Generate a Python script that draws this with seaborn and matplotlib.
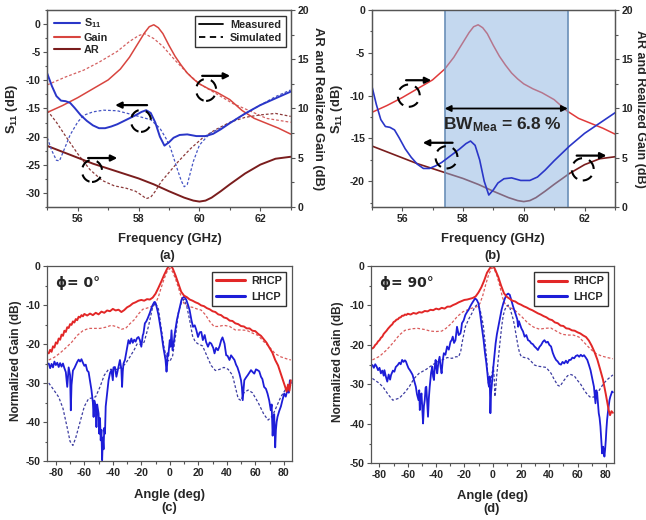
import matplotlib
matplotlib.use("Agg")
import matplotlib.pyplot as plt
import seaborn as sns
from matplotlib.patches import Ellipse
from matplotlib.lines import Line2D
from matplotlib.ticker import MultipleLocator

# ---------------- data: panels (a) and (b) ----------------
freq_s11_meas = [55.0, 55.15, 55.3, 55.45, 55.6, 55.75, 55.9, 56.1, 56.3, 56.5, 56.7, 56.9, 57.1, 57.3,
                 57.6, 57.9, 58.1, 58.25, 58.4, 58.55, 58.7, 58.85, 59.0, 59.15, 59.35, 59.6, 59.9,
                 60.2, 60.45, 60.7, 61.0, 61.5, 62.0, 62.5, 63.0]
s11_meas = [-8.8, -11.0, -12.8, -13.6, -13.7, -14.0, -14.9, -16.2, -17.2, -18.0, -18.5, -18.5, -18.2, -17.8,
            -17.0, -16.2, -15.6, -15.3, -15.8, -17.5, -20.0, -21.6, -21.0, -20.2, -19.7, -19.6, -19.9,
            -19.9, -19.5, -18.7, -17.6, -15.9, -14.4, -13.2, -12.0]

freq_s11_sim = [55.0, 55.15, 55.3, 55.4, 55.5, 55.75, 56.0, 56.2, 56.5, 56.85, 57.3, 57.8, 58.4, 58.7,
                58.9, 59.05, 59.25, 59.4, 59.5, 59.6, 59.8, 60.0, 60.35, 60.8, 61.2, 61.9, 62.5, 63.0]
s11_sim = [-20.2, -22.5, -24.2, -24.3, -23.0, -19.7, -17.4, -16.2, -15.6, -15.3, -15.4, -16.1, -17.0, -18.5,
           -20.3, -22.0, -25.4, -27.8, -28.9, -28.5, -24.4, -21.5, -19.4, -18.2, -16.9, -14.7, -12.9, -11.7]

freq_gain = [55.0, 55.5, 56.0, 56.5, 57.0, 57.4, 57.7, 58.0, 58.2, 58.35, 58.5, 58.65, 58.8, 59.0,
             59.2, 59.4, 59.6, 59.8, 60.0, 60.3, 60.6, 61.0, 61.4, 61.8, 62.2, 62.6, 63.0]
gain_meas = [9.6, 10.3, 11.1, 12.0, 12.9, 14.0, 15.2, 16.7, 17.7, 18.3, 18.5, 18.2, 17.6, 16.4,
             15.3, 14.4, 13.6, 13.0, 12.5, 12.0, 11.6, 10.9, 9.8, 9.0, 8.5, 8.0, 7.4]

freq_gain_sim = [55.0, 55.6, 56.2, 56.7, 57.3, 57.7, 58.0, 58.2, 58.5, 58.8, 59.2, 59.6, 60.0, 60.5,
                 61.1, 61.7, 62.2, 63.0]
gain_sim = [12.4, 13.2, 13.9, 14.7, 15.8, 16.8, 17.4, 17.6, 17.1, 16.3, 14.9, 13.6, 12.5, 11.6,
            10.5, 9.7, 9.0, 8.6]

freq_ar = [55.0, 55.5, 56.0, 56.5, 57.0, 57.5, 58.0, 58.5, 59.0, 59.5, 59.8, 60.0, 60.2, 60.4,
           60.7, 61.0, 61.5, 62.0, 62.5, 63.0]
ar_meas = [6.2, 5.6, 5.0, 4.4, 3.9, 3.4, 2.9, 2.3, 1.6, 0.95, 0.65, 0.55, 0.65, 0.95,
           1.6, 2.3, 3.4, 4.3, 4.9, 5.1]

freq_ar_sim = [55.0, 55.3, 55.6, 56.0, 56.4, 56.8, 57.2, 57.6, 57.9, 58.1, 58.25, 58.4, 58.55, 58.75,
               59.0, 59.3, 59.7, 60.1, 60.5, 61.0, 61.5, 62.0, 62.5, 63.0]
ar_sim = [9.8, 8.6, 7.2, 5.4, 3.8, 2.7, 2.15, 1.9, 1.6, 1.2, 0.85, 1.0, 1.6, 2.6,
          3.5, 4.6, 5.9, 7.0, 7.8, 8.6, 9.1, 9.35, 9.5, 9.2]

bw_band = [57.4, 61.45]

# ---------------- data: panel (c) phi = 0 ----------------
rhcp_c_meas = [(-85, -22.4), (-84, -21.5), (-83, -22.0), (-82, -20.6), (-81, -20.9), (-80, -19.6), (-79, -19.9),
               (-78, -18.6), (-77, -18.9), (-76, -17.6), (-75, -17.9), (-74, -16.6), (-73, -16.9), (-72, -15.7),
               (-71, -15.9), (-70, -14.9), (-69, -15.1), (-68, -14.2), (-67, -14.5), (-66, -13.6), (-65, -13.9),
               (-64, -13.0), (-63, -13.2), (-62, -12.6), (-61, -12.9), (-60, -12.3), (-58, -12.7), (-56, -12.2),
               (-54, -12.6), (-52, -12.0), (-50, -12.4), (-48, -11.7), (-46, -12.0), (-44, -11.4), (-42, -11.6),
               (-40, -11.0), (-38, -11.4), (-36, -11.2), (-34, -11.8), (-32, -11.3), (-30, -10.6), (-28, -10.2),
               (-26, -9.6), (-24, -9.3), (-22, -8.9), (-20, -8.7), (-18, -8.9), (-16, -8.5), (-14, -8.6),
               (-12, -8.1), (-10, -7.1), (-8, -5.6), (-6, -4.0), (-4, -2.3), (-2, -0.8), (-1, -0.2), (0, 0.0),
               (1, -0.1), (2, -0.6), (4, -2.4), (6, -4.5), (8, -6.6), (10, -7.6), (12, -8.0), (14, -8.6),
               (16, -8.9), (18, -9.3), (20, -9.6), (22, -10.1), (24, -10.3), (26, -10.8), (28, -11.1),
               (30, -11.6), (32, -11.8), (34, -12.4), (36, -12.6), (38, -13.2), (40, -13.4), (42, -14.0),
               (44, -14.1), (46, -14.7), (48, -14.9), (50, -15.4), (52, -15.5), (54, -16.0), (56, -16.0),
               (58, -16.6), (60, -16.7), (62, -17.4), (64, -17.9), (66, -18.8), (68, -19.7), (70, -21.0),
               (72, -22.2), (74, -24.1), (76, -25.5), (78, -27.7), (80, -29.9), (81, -31.0), (82, -32.2),
               (83, -30.4), (84, -32.0), (85, -29.3)]

rhcp_c_sim = [(-85, -24.1), (-81, -23.4), (-77, -22.3), (-73, -21.0), (-69, -19.6), (-65, -17.8), (-61, -16.6),
              (-57, -16.0), (-53, -16.0), (-49, -16.0), (-45, -15.7), (-41, -15.2), (-37, -15.6), (-34, -16.2),
              (-31, -16.0), (-28, -14.8), (-25, -13.8), (-22, -12.3), (-19, -11.1), (-16, -10.8), (-13, -10.4),
              (-10, -9.6), (-8, -7.9), (-6, -5.5), (-4, -3.3), (-2, -1.5), (0, -0.6), (2, -1.5), (4, -3.3),
              (6, -5.5), (8, -7.9), (10, -9.6), (13, -10.4), (16, -10.6), (19, -11.0), (22, -11.3), (25, -12.5),
              (28, -14.2), (31, -15.5), (34, -15.5), (38, -15.2), (42, -15.5), (46, -16.4), (50, -16.4),
              (54, -16.5), (58, -17.2), (62, -17.8), (66, -19.4), (70, -20.8), (74, -22.5), (78, -23.3),
              (82, -23.8), (85, -24.1)]

lhcp_c_meas = [(-85, -25.0), (-84, -26.2), (-83, -25.1), (-82, -26.0), (-81, -24.5), (-80, -25.4), (-79, -24.8),
               (-78, -25.9), (-77, -24.9), (-76, -25.8), (-75, -25.0), (-74, -26.2), (-73, -27.2), (-72, -31.0),
               (-71, -26.0), (-70, -28.0), (-69.5, -37.0), (-69, -30.5), (-68, -26.8), (-67, -26.2), (-66, -25.4),
               (-65, -24.6), (-64, -24.0), (-63, -24.5), (-62, -23.9), (-61, -24.8), (-60, -25.6), (-59, -25.3),
               (-58, -26.8), (-57, -27.2), (-56, -29.5), (-55, -31.8), (-54, -35.0), (-53.5, -38.7), (-53, -34.5),
               (-52, -36.0), (-51.5, -41.3), (-51, -35.5), (-50, -37.8), (-49.5, -43.0), (-49, -39.0),
               (-48.5, -44.7), (-48, -42.0), (-47.5, -49.8), (-47, -44.0), (-46.5, -47.0), (-46, -41.5),
               (-45.5, -43.0), (-45, -36.0), (-44, -32.7), (-43, -29.3), (-42, -27.5), (-41, -26.7), (-40, -29.3),
               (-39.5, -26.0), (-38.5, -25.9), (-37.5, -28.4), (-36.5, -26.7), (-35, -24.1), (-34, -26.5),
               (-33.5, -31.0), (-33, -27.0), (-32.5, -25.0), (-31.5, -24.1), (-30.5, -22.0), (-29, -19.0),
               (-28, -19.9), (-27, -18.6), (-26, -19.7), (-25, -18.9), (-24, -19.4), (-23, -18.5), (-22, -18.2),
               (-21, -19.0), (-20, -20.7), (-19, -17.8), (-18.5, -17.3), (-17.5, -14.7), (-16.5, -14.2),
               (-15.5, -13.4), (-14, -12.0), (-13, -10.9), (-12, -10.0), (-11, -9.3), (-10.5, -9.2), (-10, -9.6),
               (-9.3, -10.4), (-8, -12.5), (-7, -14.7), (-6, -17.0), (-4.6, -20.7), (-3.5, -23.0), (-3, -24.1),
               (-2.3, -27.1), (-1.8, -25.0), (-1.6, -22.4), (-1, -23.0), (-0.7, -21.6), (0, -19.0), (0.5, -20.7),
               (1.2, -16.5), (1.9, -21.6), (3, -19.0), (3.5, -17.3), (5, -13.8), (6, -12.2), (7, -10.5),
               (8.2, -8.7), (9, -8.2), (10, -7.9), (11, -8.3), (11.6, -8.7), (13, -10.2), (13.9, -11.3),
               (15.2, -13.9), (16.3, -15.6), (17.5, -15.2), (18.6, -16.4), (19.8, -18.2), (21, -17.0),
               (22.1, -16.9), (23.2, -19.0), (24.5, -17.7), (25.5, -19.5), (26.8, -20.7), (28, -19.6),
               (29.1, -19.9), (30.5, -21.0), (31.4, -22.4), (32.5, -21.0), (33.8, -21.6), (35, -20.5),
               (36.1, -19.0), (37, -18.3), (38.4, -19.9), (39.6, -22.9), (40.5, -23.0), (41.9, -24.1),
               (43, -22.9), (44.2, -23.5), (45.4, -24.1), (46.5, -25.3), (47.5, -26.0), (48.9, -27.6),
               (50, -29.3), (50.6, -31.0), (51.2, -34.4), (51.8, -31.5), (52.3, -29.3), (53.5, -28.6),
               (54.7, -28.0), (55.8, -27.4), (57, -26.7), (58.2, -27.2), (59.3, -27.6), (60.5, -26.5),
               (61.6, -26.7), (62.8, -27.0), (64, -28.4), (65, -29.0), (66.2, -31.0), (67.5, -31.5),
               (68.6, -32.7), (69.8, -34.5), (70.9, -37.0), (71.5, -35.5), (72.2, -43.5), (72.8, -39.0),
               (73.3, -38.0), (74, -46.5), (74.5, -42.0), (75, -40.0), (75.6, -38.7), (76.8, -37.2),
               (78, -36.0), (79, -34.5), (80.3, -32.7), (81.4, -33.5), (82.6, -31.8), (83.5, -32.5),
               (84.3, -29.3), (85, -30.0)]

lhcp_c_sim = [(-85, -30.0), (-82, -31.5), (-78, -33.6), (-75, -36.5), (-72, -41.5), (-70, -45.0), (-68, -46.0),
              (-66, -44.0), (-63, -40.0), (-60, -36.0), (-57, -34.0), (-54, -33.8), (-52, -33.5), (-49, -31.0),
              (-46, -28.0), (-43, -26.5), (-40, -26.5), (-37, -26.5), (-34, -26.0), (-31, -25.0), (-28, -23.3),
              (-25, -21.5), (-23, -20.0), (-20, -20.2), (-18, -19.5), (-15, -15.5), (-12, -10.5), (-10, -9.5),
              (-8, -11.0), (-6, -16.0), (-4, -21.0), (-2, -24.0), (0, -24.5), (2, -23.0), (4, -18.0),
              (6, -12.0), (8, -9.5), (10, -8.5), (12, -10.5), (14, -14.0), (16, -18.0), (18, -19.5),
              (20, -20.0), (23, -20.5), (26, -23.0), (29, -25.5), (32, -26.8), (35, -26.5), (38, -26.0),
              (41, -26.5), (44, -28.0), (46, -31.0), (48, -34.0), (50, -34.5), (52, -32.5), (55, -31.8),
              (58, -32.5), (62, -35.0), (66, -38.0), (69, -39.5), (72, -38.5), (75, -36.0), (78, -33.5),
              (81, -31.8), (85, -30.5)]

# ---------------- data: panel (d) phi = 90 ----------------
rhcp_d_meas = [(-85, -20.9), (-84, -20.6), (-83, -20.0), (-82, -19.7), (-81, -19.1), (-80, -18.8), (-79, -18.2),
               (-78, -17.9), (-77, -17.2), (-76, -16.8), (-75, -16.4), (-74, -15.9), (-73, -15.5), (-72, -15.1),
               (-71, -14.8), (-70, -14.2), (-69, -14.0), (-68, -13.6), (-67, -13.5), (-66, -13.1), (-65, -13.0),
               (-64, -12.6), (-63, -12.6), (-62, -12.3), (-61, -12.4), (-60, -12.1), (-58, -12.3), (-56, -11.9),
               (-54, -12.1), (-52, -11.7), (-50, -11.8), (-48, -11.4), (-46, -11.5), (-44, -11.1), (-42, -11.2),
               (-40, -10.8), (-38, -11.0), (-36, -10.6), (-34, -10.8), (-32, -10.3), (-30, -10.3), (-28, -9.9),
               (-26, -9.6), (-24, -9.2), (-22, -8.9), (-20, -8.6), (-18, -8.5), (-16, -8.3), (-14, -8.1),
               (-12, -7.7), (-10, -6.7), (-8, -5.4), (-6, -3.7), (-4, -1.7), (-2, -0.6), (-1, -0.1), (0, 0.0),
               (1, -0.3), (2, -1.1), (4, -2.8), (6, -5.0), (8, -6.9), (10, -7.8), (12, -8.3), (14, -8.8),
               (16, -9.0), (18, -9.5), (20, -9.8), (22, -10.2), (24, -10.5), (26, -10.9), (28, -11.2),
               (30, -11.6), (32, -12.0), (34, -12.3), (36, -12.7), (38, -13.0), (40, -13.5), (42, -13.7),
               (44, -14.3), (46, -14.5), (48, -15.1), (50, -15.2), (52, -15.8), (54, -15.9), (56, -16.3),
               (58, -16.4), (60, -16.8), (62, -17.1), (64, -17.6), (66, -18.0), (68, -18.9), (70, -20.2),
               (72, -21.8), (74, -23.7), (76, -26.2), (78, -28.8), (80, -32.5), (81, -34.5), (82, -36.5),
               (83, -37.8), (84, -36.8), (85, -37.2)]

rhcp_d_sim = [(-85, -23.8), (-80, -22.9), (-75, -21.3), (-70, -19.3), (-66, -17.5), (-62, -16.3), (-57, -15.9),
              (-53, -15.8), (-48, -16.1), (-44, -16.5), (-40, -16.6), (-36, -16.5), (-33, -15.8), (-29, -14.5),
              (-25, -12.8), (-21, -11.6), (-17, -11.0), (-14, -10.6), (-11, -10.3), (-9, -9.5), (-7, -7.5),
              (-5, -4.8), (-3, -2.4), (-1, -0.7), (0, -0.5), (1, -0.7), (3, -2.4), (5, -5.0), (7, -8.0),
              (9, -9.8), (12, -10.5), (15, -11.0), (18, -12.0), (21, -13.0), (25, -14.5), (29, -15.5),
              (33, -16.0), (37, -15.8), (41, -15.7), (45, -16.5), (49, -17.3), (53, -17.5), (57, -17.5),
              (61, -18.0), (65, -19.5), (69, -21.0), (73, -22.2), (77, -22.8), (81, -23.2), (85, -23.5)]

lhcp_d_meas = [(-85, -25.1), (-84, -25.8), (-83, -24.9), (-82, -25.5), (-81, -26.4), (-80, -25.8), (-79, -27.2),
               (-78, -26.5), (-77, -27.8), (-76.5, -26.4), (-75.5, -28.0), (-74.5, -29.3), (-73.5, -27.5),
               (-72.5, -28.8), (-71.8, -27.6), (-70.5, -26.5), (-69.5, -26.8), (-68.5, -25.6), (-67.1, -25.1),
               (-66, -24.5), (-65, -24.9), (-64, -23.8), (-63, -24.3), (-62, -23.9), (-61.3, -24.2),
               (-60.5, -25.0), (-59.5, -25.9), (-58.5, -26.4), (-57.5, -27.0), (-56.6, -27.6), (-55.5, -29.0),
               (-54.3, -30.6), (-53.5, -32.5), (-52.4, -34.0), (-51.9, -31.5), (-51.5, -36.5), (-50.9, -33.0),
               (-50.3, -32.3), (-49.6, -37.5), (-49.2, -39.9), (-48.6, -35.5), (-48, -34.0), (-47.4, -30.8),
               (-46.9, -30.6), (-46.2, -35.0), (-45.7, -38.2), (-45.1, -33.5), (-44.5, -30.6), (-43.5, -27.0),
               (-42.7, -25.5), (-42.1, -28.0), (-41.5, -28.9), (-40.9, -25.5), (-40.3, -23.8), (-39.7, -26.0),
               (-39.2, -27.2), (-38.4, -24.5), (-37.5, -23.0), (-36.8, -25.5), (-36.1, -27.2), (-35.3, -24.0),
               (-34.5, -22.1), (-33.4, -22.5), (-32.2, -20.4), (-31, -21.2), (-29.8, -19.2), (-29, -18.8),
               (-28.2, -17.9), (-27.3, -19.5), (-26.3, -18.8), (-25.7, -17.0), (-25.2, -15.4), (-24, -17.5),
               (-22.8, -17.1), (-22.2, -16.0), (-21.7, -14.5), (-20.5, -13.8), (-19.3, -12.4), (-18, -11.6),
               (-17, -11.1), (-15.8, -10.2), (-14.7, -9.5), (-13.5, -8.8), (-12.4, -8.2), (-11.2, -8.6),
               (-10, -9.5), (-8.9, -12.0), (-7.7, -15.4), (-6.5, -18.5), (-5.4, -22.1), (-4.5, -24.5),
               (-3.7, -27.2), (-3.1, -29.5), (-2.6, -30.6), (-2.1, -28.0), (-1.6, -37.3), (-1.1, -32.0),
               (-0.7, -30.6), (0, -27.5), (0.5, -25.5), (1.3, -22.5), (2.1, -19.6), (3, -17.3), (4, -15.4),
               (5.2, -13.0), (6.3, -11.1), (7.5, -9.5), (8.7, -8.2), (9.8, -7.3), (11, -7.0), (12.1, -7.3),
               (13.3, -8.8), (14.5, -10.3), (15.6, -11.5), (16.8, -12.8), (17.4, -13.5), (18, -15.4),
               (18.6, -14.0), (19.5, -15.0), (20.3, -15.8), (21.5, -16.6), (22.6, -17.9), (23.8, -17.5),
               (25, -18.8), (26.1, -19.0), (27.3, -19.6), (28.4, -19.8), (29.6, -20.4), (30.8, -20.8),
               (32, -21.3), (33.1, -20.5), (34.3, -20.0), (35.5, -19.2), (36.6, -18.8), (37.8, -19.4),
               (39, -19.2), (40.1, -20.0), (41.3, -20.4), (42.5, -22.0), (43.6, -23.0), (44.8, -23.8),
               (46, -24.2), (47.1, -24.8), (48.3, -25.0), (49.4, -24.3), (50.6, -24.7), (51.8, -24.0),
               (52.9, -24.6), (54.1, -23.8), (55.2, -23.8), (56.4, -23.2), (57.6, -23.4), (58.8, -22.8),
               (60, -22.6), (61.2, -23.0), (62.3, -22.5), (63.5, -22.9), (64.6, -22.6), (65.8, -23.2),
               (66.9, -23.8), (68, -25.0), (69.2, -26.4), (70.4, -28.5), (71.6, -30.6), (72.2, -33.0),
               (72.7, -34.8), (73.3, -31.5), (73.9, -32.3), (74.5, -35.0), (75, -37.3), (75.6, -38.5),
               (76.2, -40.7), (76.8, -44.0), (77.4, -47.5), (78.1, -45.8), (78.6, -47.0), (79, -48.3),
               (79.5, -46.5), (80, -44.1), (80.4, -41.5), (80.9, -39.0), (81.5, -37.0), (82, -35.6),
               (82.6, -34.0), (83.2, -33.1), (83.8, -32.5), (84.4, -31.8), (85, -32.0)]

lhcp_d_sim = [(-85, -28.5), (-81, -29.5), (-77.6, -30.6), (-74, -32.5), (-70.6, -34.0), (-66, -33.5), (-62, -32.0),
              (-59, -30.6), (-55.5, -28.5), (-52, -27.2), (-47, -26.2), (-42.7, -25.1), (-39, -24.3),
              (-35.7, -23.8), (-32, -23.2), (-28.7, -23.4), (-26, -23.0), (-24, -23.0), (-22.5, -21.5),
              (-21.7, -19.6), (-19.3, -15.4), (-17, -13.5), (-14.7, -12.0), (-12.5, -10.3), (-11.2, -9.9),
              (-10, -10.2), (-8.9, -11.1), (-7.7, -13.0), (-6.5, -15.4), (-5.3, -19.5), (-4.2, -23.8),
              (-3, -29.7), (-1.9, -30.6), (-0.8, -28.0), (0.5, -25.5), (1.1, -28.5), (1.6, -33.1), (2.2, -31.0),
              (2.8, -28.0), (4, -23.5), (5.1, -19.6), (6.5, -15.0), (7.5, -12.5), (8.6, -11.1), (9.8, -10.2),
              (11, -9.9), (12.1, -10.5), (13.3, -12.0), (14.5, -13.5), (15.6, -15.4), (16.8, -18.0),
              (18, -20.4), (19, -22.0), (20.3, -23.0), (22.6, -23.2), (25, -23.4), (27.3, -24.2), (29.6, -25.1),
              (32, -25.4), (34.3, -25.5), (37.8, -25.7), (41.3, -27.2), (43.6, -28.8), (46, -30.2),
              (47.5, -30.5), (48.5, -30.0), (50.6, -28.9), (53, -27.8), (55.2, -27.5), (57.6, -27.8),
              (60, -29.0), (62.3, -30.0), (64.6, -31.4), (67, -32.6), (69.2, -33.3), (71.5, -33.2),
              (73.9, -32.3), (76.2, -31.0), (78.6, -29.7), (81, -28.8), (85, -27.6)]

# ---------------- style ----------------
sns.set_theme(style="ticks")
plt.rcParams['font.family'] = ['Liberation Sans', 'DejaVu Sans']
plt.rcParams['font.weight'] = 'bold'
plt.rcParams['axes.labelweight'] = 'bold'
plt.rcParams['axes.unicode_minus'] = False
plt.rcParams['mathtext.fontset'] = 'custom'
plt.rcParams['mathtext.rm'] = 'Liberation Sans:bold'
plt.rcParams['mathtext.bf'] = 'Liberation Sans:bold'
plt.rcParams['mathtext.it'] = 'Liberation Sans:bold'

C_S11 = '#2a36c8'
C_S11_SIM = '#4454c4'
C_GAIN = '#d8453f'
C_GAIN_SIM = '#d46060'
C_AR = '#7a1d1d'
C_AR_SIM = '#8c3a3a'
C_R = '#e22727'
C_R_SIM = '#da5c5c'
C_L = '#1d1dd8'
C_L_SIM = '#3c3ca0'
DOT = (0, (2.2, 1.6))

fig = plt.figure(figsize=(6.46, 5.2), dpi=100)
W, H = 646.0, 520.0


def rect(l, r, t, b):
    return [l / W, 1 - b / H, (r - l) / W, (b - t) / H]


def line(ax, x, y, color, lw, ls='-', z=2):
    sns.lineplot(x=list(x), y=list(y), ax=ax, color=color, linewidth=lw, linestyle=ls,
                 estimator=None, sort=False, legend=False, zorder=z)


def pairs(ax, data, color, lw, ls='-', z=2):
    xs = [p[0] for p in data]
    ys = [p[1] for p in data]
    line(ax, xs, ys, color, lw, ls, z)


def style_axis(ax):
    for s in ax.spines.values():
        s.set_visible(True)
        s.set_color('#555555')
        s.set_linewidth(0.9)
    ax.tick_params(which='both', direction='out', color='#555555', labelsize=7.6,
                   width=0.8, pad=1.8)
    ax.tick_params(which='major', length=3)
    ax.tick_params(which='minor', length=1.8)
    ax.set_xlabel('')
    ax.set_ylabel('')
    for lab in ax.get_xticklabels() + ax.get_yticklabels():
        lab.set_fontweight('bold')


def ring(ax, x, y, w, h):
    ax.add_patch(Ellipse((x, y), w, h, fill=False, ec='black', lw=1.5,
                         ls=(0, (5, 3.5)), zorder=6))


def arrow(ax, x0, x1, y):
    ax.annotate('', xy=(x1, y), xytext=(x0, y),
                arrowprops=dict(arrowstyle='-|>', color='black', lw=1.6,
                                mutation_scale=9, shrinkA=0, shrinkB=0), zorder=6)


# ---------------- panel (a) ----------------
ax_a = fig.add_axes(rect(47.3, 290.7, 10, 207))
ax_a2 = ax_a.twinx()
ax_a.set_zorder(ax_a2.get_zorder() + 1)
ax_a.patch.set_visible(False)

line(ax_a2, freq_gain_sim, gain_sim, C_GAIN_SIM, 0.9, DOT)
line(ax_a2, freq_ar_sim, ar_sim, C_AR_SIM, 0.9, DOT)
line(ax_a2, freq_gain, gain_meas, C_GAIN, 1.1)
line(ax_a2, freq_ar, ar_meas, C_AR, 1.4)
line(ax_a, freq_s11_sim, s11_sim, C_S11_SIM, 0.9, DOT)
line(ax_a, freq_s11_meas, s11_meas, C_S11, 1.4)

ax_a.set_xlim(55, 63)
ax_a.set_ylim(-32.5, 2.5)
ax_a2.set_ylim(0, 20)
ax_a.set_xticks([56, 58, 60, 62])
ax_a.xaxis.set_minor_locator(MultipleLocator(1))
ax_a.yaxis.set_major_locator(MultipleLocator(5))
ax_a.yaxis.set_minor_locator(MultipleLocator(2.5))
ax_a2.yaxis.set_major_locator(MultipleLocator(5))
ax_a2.yaxis.set_minor_locator(MultipleLocator(2.5))
style_axis(ax_a)
style_axis(ax_a2)

ring(ax_a, 56.47, -26.1, 0.66, 3.9)
arrow(ax_a, 56.34, 57.3, -23.8)
ring(ax_a, 58.08, -17.2, 0.66, 3.9)
arrow(ax_a, 58.28, 57.23, -14.4)
ring(ax_a, 60.22, -11.7, 0.66, 3.9)
arrow(ax_a, 60.09, 61.01, -9.2)

h1 = [Line2D([], [], color=C_S11, lw=1.5), Line2D([], [], color=C_GAIN, lw=1.5),
      Line2D([], [], color=C_AR, lw=1.5)]
leg1 = ax_a.legend(h1, [r'$\mathbf{S_{11}}$', 'Gain', 'AR'], loc='upper left',
                   bbox_to_anchor=(-0.01, 1.01), frameon=False, fontsize=7.8,
                   handlelength=2.4, labelspacing=0.22, handletextpad=0.4, borderpad=0.3)
for t in leg1.get_texts():
    t.set_fontweight('bold')
ax_a.add_artist(leg1)
h2 = [Line2D([], [], color='black', lw=1.3), Line2D([], [], color='black', lw=1.3, ls=(0, (3.5, 2.5)))]
leg2 = ax_a.legend(h2, ['Measured', 'Simulated'], loc='upper right', bbox_to_anchor=(0.985, 0.975),
                   frameon=True, fancybox=False, edgecolor='black', fontsize=7.8, handlelength=2.3,
                   labelspacing=0.3, handletextpad=0.6, borderpad=0.35, borderaxespad=0.1)
leg2.get_frame().set_linewidth(1.0)
for t in leg2.get_texts():
    t.set_fontweight('bold')

# ---------------- panel (b) ----------------
ax_b = fig.add_axes(rect(371.7, 615.0, 10, 207))
ax_b2 = ax_b.twinx()
ax_b.set_zorder(ax_b2.get_zorder() + 1)
ax_b.patch.set_visible(False)

line(ax_b2, freq_gain, gain_meas, '#e03a3a', 1.1)
line(ax_b2, freq_ar, ar_meas, C_AR, 1.2)
ax_b2.axvspan(bw_band[0], bw_band[1], facecolor='#8bb3e1', alpha=0.5, edgecolor='none', zorder=4)
ax_b2.axvline(bw_band[0], color='#6a8fb8', lw=1.2, zorder=4)
ax_b2.axvline(bw_band[1], color='#6a8fb8', lw=1.2, zorder=4)
line(ax_b, freq_s11_meas, s11_meas, C_S11, 1.2)

ax_b.set_xlim(55, 63)
ax_b.set_ylim(-23, 0)
ax_b2.set_ylim(0, 20)
ax_b.set_xticks([56, 58, 60, 62])
ax_b.xaxis.set_minor_locator(MultipleLocator(1))
ax_b.yaxis.set_major_locator(MultipleLocator(5))
ax_b.yaxis.set_minor_locator(MultipleLocator(2.5))
ax_b2.yaxis.set_major_locator(MultipleLocator(5))
ax_b2.yaxis.set_minor_locator(MultipleLocator(2.5))
style_axis(ax_b)
style_axis(ax_b2)

ring(ax_b, 56.22, -10.0, 0.72, 2.6)
arrow(ax_b, 56.13, 56.96, -8.2)
ring(ax_b, 57.46, -17.2, 0.72, 2.6)
arrow(ax_b, 57.66, 56.68, -15.5)
ring(ax_b, 61.94, -18.6, 0.72, 2.6)
arrow(ax_b, 61.74, 62.72, -17.0)
ax_b.annotate('', xy=(bw_band[1], -11.5), xytext=(bw_band[0], -11.5),
              arrowprops=dict(arrowstyle='<|-|>', color='black', lw=1.3, mutation_scale=9,
                              shrinkA=0, shrinkB=0), zorder=7)
ax_b.text(59.3, -13.4, r'BW$_{\mathbf{Mea}}$ = 6.8 %', ha='center', va='center',
          fontsize=12.5, fontweight='bold', zorder=7)

# ---------------- panels (c) and (d) ----------------
ax_c = fig.add_axes(rect(47.3, 292.3, 266, 461))
ax_d = fig.add_axes(rect(371.0, 614.3, 266, 463.3))

for ax, rs, ls_, rm, lm, phi in [(ax_c, rhcp_c_sim, lhcp_c_sim, rhcp_c_meas, lhcp_c_meas, 'ϕ= 0°'),
                                  (ax_d, rhcp_d_sim, lhcp_d_sim, rhcp_d_meas, lhcp_d_meas, 'ϕ= 90°')]:
    pairs(ax, rs, C_R_SIM, 0.9, DOT)
    pairs(ax, ls_, C_L_SIM, 0.9, DOT)
    pairs(ax, lm, C_L, 1.3)
    pairs(ax, rm, C_R, 1.4)
    ax.set_xlim(-86, 86)
    ax.set_ylim(-50, 0)
    ax.xaxis.set_major_locator(MultipleLocator(20))
    ax.xaxis.set_minor_locator(MultipleLocator(10))
    ax.yaxis.set_major_locator(MultipleLocator(10))
    ax.yaxis.set_minor_locator(MultipleLocator(5))
    style_axis(ax)
    hh = [Line2D([], [], color=C_R, lw=2.2), Line2D([], [], color=C_L, lw=2.2)]
    lg = ax.legend(hh, ['RHCP', 'LHCP'], loc='upper right', bbox_to_anchor=(0.98, 0.975),
                   frameon=True, fancybox=False, edgecolor='black', fontsize=7.8,
                   handlelength=2.6, labelspacing=0.5, handletextpad=0.6, borderpad=0.4,
                   borderaxespad=0.1)
    lg.get_frame().set_linewidth(1.0)
    for t in lg.get_texts():
        t.set_fontweight('bold')
    ax.text(0.035, 0.915, phi, transform=ax.transAxes, fontsize=10, fontweight='bold',
            ha='left', va='center', family=['DejaVu Sans'])

# ---------------- figure texts ----------------
fs = 9.4
fig.text(11.7 / W, 1 - 109 / H, r'$\mathbf{S_{11}}$ (dB)', rotation=90, ha='center', va='center', fontsize=fs, fontweight='bold')
fig.text(318 / W, 1 - 109 / H, 'AR and Realized Gain (dB)', rotation=270, ha='center', va='center', fontsize=fs, fontweight='bold')
fig.text(337 / W, 1 - 109 / H, r'$\mathbf{S_{11}}$ (dB)', rotation=90, ha='center', va='center', fontsize=fs, fontweight='bold')
fig.text(640 / W, 1 - 109 / H, 'AR and Realized Gain (dB)', rotation=270, ha='center', va='center', fontsize=9.0, fontweight='bold')
fig.text(170 / W, 1 - 239 / H, 'Frequency (GHz)', ha='center', va='center', fontsize=fs, fontweight='bold')
fig.text(493 / W, 1 - 239 / H, 'Frequency (GHz)', ha='center', va='center', fontsize=fs, fontweight='bold')
fig.text(167 / W, 1 - 256 / H, '(a)', ha='center', va='center', fontsize=fs, fontweight='bold')
fig.text(493 / W, 1 - 256 / H, '(b)', ha='center', va='center', fontsize=fs, fontweight='bold')
fig.text(16 / W, 1 - 361 / H, 'Normalized Gain (dB)', rotation=90, ha='center', va='center', fontsize=8.6, fontweight='bold')
fig.text(338 / W, 1 - 362 / H, 'Normalized Gain (dB)', rotation=90, ha='center', va='center', fontsize=8.6, fontweight='bold')
fig.text(169 / W, 1 - 495 / H, 'Angle (deg)', ha='center', va='center', fontsize=fs, fontweight='bold')
fig.text(492.5 / W, 1 - 496 / H, 'Angle (deg)', ha='center', va='center', fontsize=fs, fontweight='bold')
fig.text(169 / W, 1 - 508 / H, '(c)', ha='center', va='center', fontsize=fs, fontweight='bold')
fig.text(492 / W, 1 - 509 / H, '(d)', ha='center', va='center', fontsize=fs, fontweight='bold')

fig.savefig('out.png', dpi=100)
